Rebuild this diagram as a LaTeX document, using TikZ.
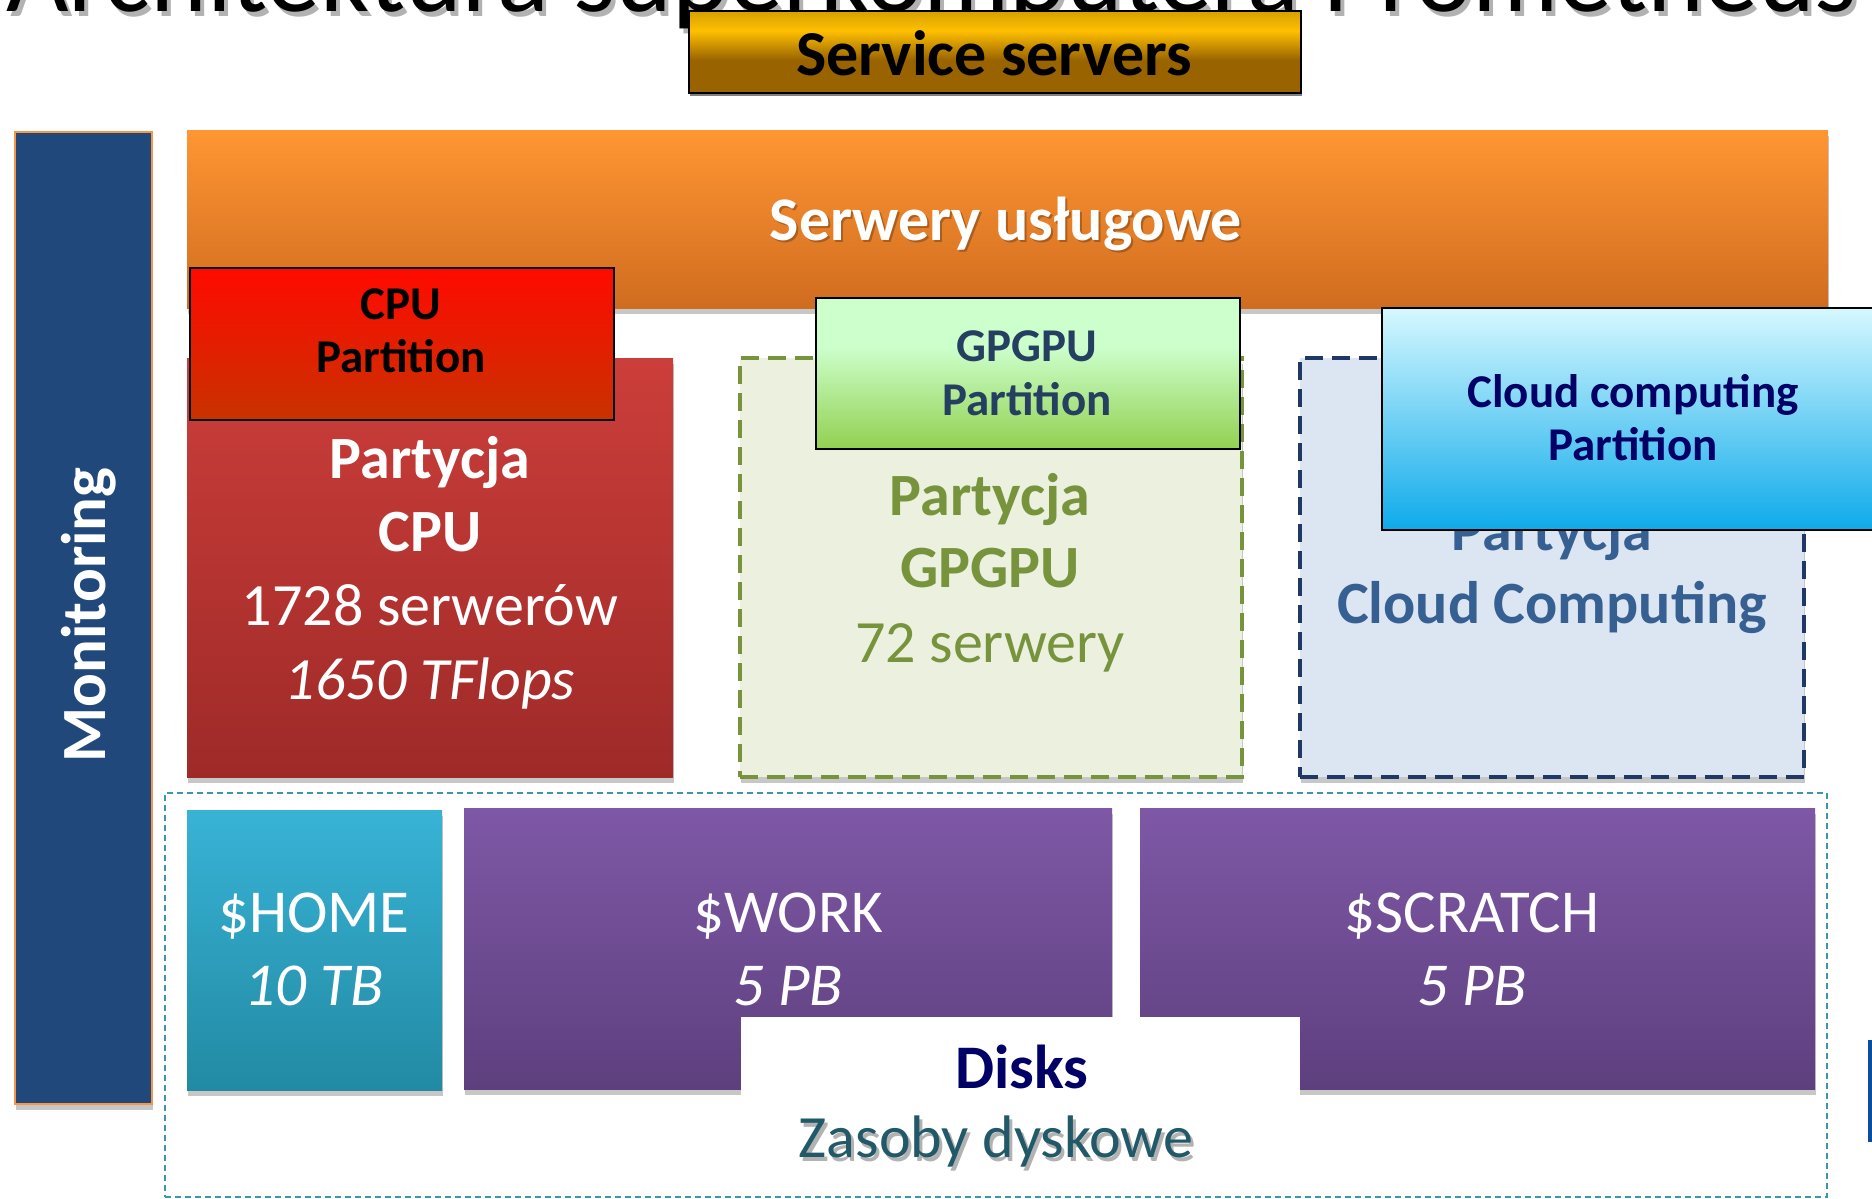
\documentclass[tikz,border=0pt]{standalone}
\usepackage{fontspec}
\setmainfont{Carlito}
\usetikzlibrary{shadows}

\definecolor{svcgold}{HTML}{D6A000}
\definecolor{svcyellow}{HTML}{FFC000}
\definecolor{svcbrown}{HTML}{996300}
\definecolor{orgtop}{HTML}{FF9633}
\definecolor{orgbot}{HTML}{D06C1F}
\definecolor{monblue}{HTML}{21487A}
\definecolor{monedge}{HTML}{F79646}
\definecolor{cputop}{HTML}{CC3E3A}
\definecolor{cpubot}{HTML}{9E2A28}
\definecolor{redtop}{HTML}{FF0A00}
\definecolor{redbot}{HTML}{C83200}
\definecolor{gpufill}{HTML}{EBF0DF}
\definecolor{gpuedge}{HTML}{77933C}
\definecolor{gputext}{HTML}{77933C}
\definecolor{greenlight}{HTML}{CCFFCC}
\definecolor{greendark}{HTML}{92D050}
\definecolor{navytext}{HTML}{243F60}
\definecolor{cloudfill}{HTML}{DCE6F2}
\definecolor{cloudedge}{HTML}{1F3864}
\definecolor{cloudtext}{HTML}{376092}
\definecolor{skytop}{HTML}{D6F8FF}
\definecolor{skymid}{HTML}{7ACDF3}
\definecolor{skybot}{HTML}{0EAAEA}
\definecolor{deepnavy}{HTML}{000066}
\definecolor{diskedge}{HTML}{3B97AE}
\definecolor{hometop}{HTML}{38B3D6}
\definecolor{homebot}{HTML}{228AA3}
\definecolor{purtop}{HTML}{7E58A6}
\definecolor{purbot}{HTML}{5E3F7E}
\definecolor{zasoby}{HTML}{215968}
\definecolor{edgeblue}{HTML}{0A4DA0}

% shadings: 25bp = bottom edge, 75bp = top edge of the filled box
\pgfdeclareverticalshading{svcshade}{100bp}{color(0bp)=(svcbrown); color(45bp)=(svcbrown); color(63bp)=(svcyellow); color(75bp)=(svcgold); color(100bp)=(svcgold)}
\pgfdeclareverticalshading{gpushade}{100bp}{color(0bp)=(greendark); color(25bp)=(greendark); color(59bp)=(greenlight); color(100bp)=(greenlight)}

\newcommand\tsz[1]{\fontsize{#1}{#1}\selectfont}

\tikzset{
  panel/.style={rectangle, inner sep=0pt, outer sep=0pt},
  softshadow/.style={drop shadow={shadow xshift=1pt, shadow yshift=-6pt, opacity=0.22, fill=black}},
  overlay box/.style={panel, draw=black, line width=2pt},
  lbl/.style={anchor=base, inner sep=0pt, outer sep=0pt},
}

\begin{document}
\begin{tikzpicture}[x=1pt,y=-1pt]
\useasboundingbox (0,0) rectangle (1872,1199);
\clip (0,0) rectangle (1872,1199);
\fill[white] (0,0) rectangle (1872,1199);

% heading, cut by the top edge
\node[lbl, anchor=base east, text=black!50, opacity=0.6] (titleshadow) at (1861,17) {\tsz{108}Architektura superkomputera Prometheus};
\node[lbl, anchor=base east] (title) at (1857,12) {\tsz{108}Architektura superkomputera Prometheus};

% service servers tag
\node[panel, minimum width=612, minimum height=82, shading=svcshade, draw=black, line width=1.5pt,
      drop shadow={shadow xshift=1pt, shadow yshift=-3pt, opacity=0.5, fill=black}] (svc) at (995,52) {};
\node[lbl] (svctext) at (994,75) {\tsz{64}\bfseries Service servers};

% monitoring column
\node[panel, minimum width=137, minimum height=972, fill=monblue, draw=monedge, line width=1.5pt, softshadow] (mon) at (83.5,618) {};
\node[lbl, rotate=90, text=white] (montext) at (105,615) {\tsz{63}\bfseries Monitoring};

% service servers bar
\node[panel, minimum width=1641, minimum height=178, top color=orgtop, bottom color=orgbot, softshadow] (srv) at (1007.5,219) {};
\node[lbl, text=black, opacity=0.25] (srvshadow) at (1008,242) {\tsz{62}\bfseries Serwery usługowe};
\node[lbl, text=white] (srvtext) at (1006,240) {\tsz{62}\bfseries Serwery usługowe};

% CPU partition
\node[panel, minimum width=486, minimum height=419, top color=cputop, bottom color=cpubot, softshadow] (cpu) at (430,567.5) {};
\node[lbl, text=white] (cpu1) at (430,478) {\tsz{60}\bfseries Partycja};
\node[lbl, text=white] (cpu2) at (430,551) {\tsz{60}\bfseries CPU};
\node[lbl, text=white] (cpu3) at (430,625) {\tsz{60}1728 serwerów};
\node[lbl, text=white] (cpu4) at (430,699) {\tsz{60}\itshape 1650 TFlops};

% GPGPU partition
\node[panel, minimum width=502, minimum height=419, fill=gpufill, draw=gpuedge, line width=4pt, dash pattern=on 18pt off 9pt, softshadow] (gpu) at (991,567.5) {};
\node[lbl, text=gputext] (gpu1) at (990,515) {\tsz{60}\bfseries Partycja};
\node[lbl, text=gputext] (gpu2) at (990,587) {\tsz{60}\bfseries GPGPU};
\node[lbl, text=gputext] (gpu3) at (990,662) {\tsz{60}72 serwery};

% cloud partition
\node[panel, minimum width=504, minimum height=419, fill=cloudfill, draw=cloudedge, line width=4pt, dash pattern=on 18pt off 9pt, softshadow] (cloud) at (1552,567.5) {};
\node[lbl, text=cloudtext] (cloud1) at (1552,550) {\tsz{60}\bfseries Partycja};
\node[lbl, text=cloudtext] (cloud2) at (1552,623) {\tsz{60}\bfseries Cloud Computing};

% English partition tags
\node[overlay box, minimum width=424, minimum height=152, top color=redtop, bottom color=redbot] (cputag) at (402,344) {};
\node[lbl] (cputag1) at (401,319) {\tsz{47}\bfseries CPU};
\node[lbl] (cputag2) at (401,372.5) {\tsz{47}\bfseries Partition};

\node[overlay box, minimum width=424, minimum height=151, shading=gpushade] (gputag) at (1028,373.5) {};
\node[lbl, text=navytext] (gputag1) at (1027,361) {\tsz{47}\bfseries GPGPU};
\node[lbl, text=navytext] (gputag2) at (1027,415) {\tsz{47}\bfseries Partition};

\node[overlay box, minimum width=504, minimum height=222, top color=skytop, middle color=skymid, bottom color=skybot] (cloudtag) at (1634,419) {};
\node[lbl, text=deepnavy] (cloudtag1) at (1633,407) {\tsz{47}\bfseries Cloud computing};
\node[lbl, text=deepnavy] (cloudtag2) at (1633,460) {\tsz{47}\bfseries Partition};

% storage
\node[panel, minimum width=1662, minimum height=404, draw=diskedge, line width=2pt, dash pattern=on 6pt off 4pt] (storage) at (996,995) {};

\node[panel, minimum width=255, minimum height=280, top color=hometop, bottom color=homebot, softshadow] (home) at (314.5,950) {};
\node[lbl, text=white] (home1) at (314,932) {\tsz{61}\$HOME};
\node[lbl, text=white] (home2) at (314,1005) {\tsz{61}\itshape 10 TB};

\node[panel, minimum width=648, minimum height=281, top color=purtop, bottom color=purbot, softshadow] (work) at (788,948.5) {};
\node[lbl, text=white] (work1) at (788,932) {\tsz{61}\$WORK};
\node[lbl, text=white] (work2) at (788,1005) {\tsz{61}\itshape 5 PB};

\node[panel, minimum width=675, minimum height=281, top color=purtop, bottom color=purbot, softshadow] (scratch) at (1477.5,948.5) {};
\node[lbl, text=white] (scratch1) at (1472,932) {\tsz{61}\$SCRATCH};
\node[lbl, text=white] (scratch2) at (1472,1005) {\tsz{61}\itshape 5 PB};

\node[panel, minimum width=559, minimum height=100, fill=white] (diskslabel) at (1020.5,1067) {};
\node[lbl, text=deepnavy] (diskstext) at (1022,1088) {\tsz{62}\bfseries Disks};
\node[lbl, text=black, opacity=0.3] (zasobyshadow) at (999,1161) {\tsz{60}Zasoby dyskowe};
\node[lbl, text=zasoby] (zasobytext) at (996,1157) {\tsz{60}Zasoby dyskowe};

% neighbouring element at the right edge
\node[panel, minimum width=8, minimum height=102, fill=edgeblue] (edgebit) at (1872,1091) {};
\end{tikzpicture}
\end{document}
